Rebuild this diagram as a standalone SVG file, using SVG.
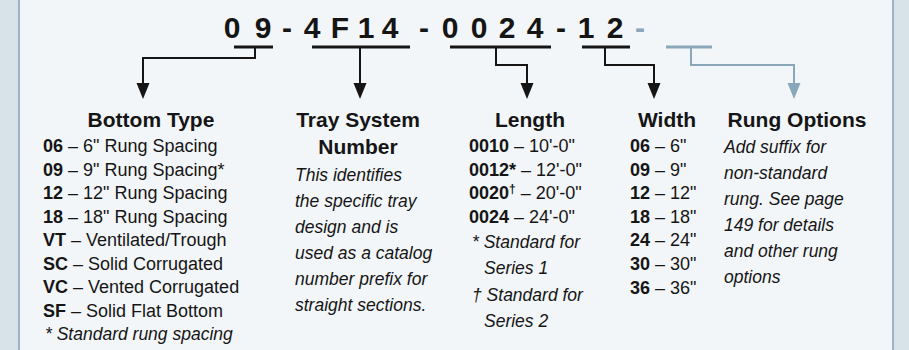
<svg xmlns="http://www.w3.org/2000/svg" width="909" height="350" viewBox="0 0 909 350">
<style>
text{font-family:"Liberation Sans",Arial,sans-serif;fill:#151515}
.code{font-size:30px;font-weight:bold;text-anchor:middle}
.h{font-size:21px;font-weight:bold;text-anchor:middle}
.t{font-size:18px}
.i{font-size:17.5px;font-style:italic}
.b{font-weight:bold}
.ul{stroke:#151515;stroke-width:3;fill:none}
.ulg{stroke:#8aa6b9;stroke-width:3;fill:none}
.ln{stroke:#151515;stroke-width:2;fill:none;marker-end:url(#ah)}
.lng{stroke:#8aa6b9;stroke-width:2;fill:none;marker-end:url(#ahg)}
</style>
<defs>
<marker id="ah" markerUnits="userSpaceOnUse" markerWidth="16" markerHeight="14" viewBox="0 0 16 14" refX="5" refY="7" orient="auto"><path d="M0,0.5 L16,7 L0,13.5 z" fill="#151515"/></marker>
<marker id="ahg" markerUnits="userSpaceOnUse" markerWidth="16" markerHeight="14" viewBox="0 0 16 14" refX="5" refY="7" orient="auto"><path d="M0,0.5 L16,7 L0,13.5 z" fill="#8aa6b9"/></marker>
</defs>
<rect x="0" y="0" width="909" height="350" fill="#d8e2e9"/>
<rect x="19" y="-5" width="874" height="365" fill="#f3f6f9" stroke="#9cb3c5" stroke-width="2"/>

<g id="code">
<text class="code" y="38"><tspan x="232">0</tspan><tspan x="263">9</tspan><tspan x="287">-</tspan><tspan x="312">4</tspan><tspan x="340">F</tspan><tspan x="366">1</tspan><tspan x="390">4</tspan><tspan x="424">-</tspan><tspan x="450">0</tspan><tspan x="479">0</tspan><tspan x="507">2</tspan><tspan x="535">4</tspan><tspan x="561">-</tspan><tspan x="586">1</tspan><tspan x="615">2</tspan></text>
<text class="code" y="38" x="640" style="fill:#8aa6b9">-</text>
</g>

<g id="connectors">
<path class="ul" d="M234 47 H273"/>
<path class="ln" d="M255 47 V58 H143 V88"/>
<path class="ul" d="M312 47 H410"/>
<path class="ln" d="M360 47 V88"/>
<path class="ul" d="M450 47 H551"/>
<path class="ln" d="M496 47 V65 H527 V88"/>
<path class="ul" d="M582 47 H630"/>
<path class="ln" d="M605 47 V65 H654 V88"/>
<path class="ulg" d="M666 47 H712"/>
<path class="lng" d="M691 47 V65 H794 V88"/>
</g>

<g id="bottom-type">
<text class="h" x="151" y="127">Bottom Type</text>
<text class="t" x="43" y="152"><tspan class="b">06</tspan> – 6" Rung Spacing</text>
<text class="t" x="43" y="175.5"><tspan class="b">09</tspan> – 9" Rung Spacing*</text>
<text class="t" x="43" y="199"><tspan class="b">12</tspan> – 12" Rung Spacing</text>
<text class="t" x="43" y="222.5"><tspan class="b">18</tspan> – 18" Rung Spacing</text>
<text class="t" x="43" y="246"><tspan class="b">VT</tspan> – Ventilated/Trough</text>
<text class="t" x="43" y="269.5"><tspan class="b">SC</tspan> – Solid Corrugated</text>
<text class="t" x="43" y="293"><tspan class="b">VC</tspan> – Vented Corrugated</text>
<text class="t" x="43" y="317"><tspan class="b">SF</tspan> – Solid Flat Bottom</text>
<text class="i" x="45" y="340">* Standard rung spacing</text>
</g>

<g id="tray-system-number">
<text class="h" x="358" y="127">Tray System</text>
<text class="h" x="358" y="154">Number</text>
<text class="i" x="295" y="181">This identifies</text>
<text class="i" x="295" y="207">the specific tray</text>
<text class="i" x="295" y="233">design and is</text>
<text class="i" x="295" y="259">used as a catalog</text>
<text class="i" x="295" y="285">number prefix for</text>
<text class="i" x="295" y="311">straight sections.</text>
</g>

<g id="length">
<text class="h" x="530" y="127">Length</text>
<text class="t" x="469" y="152"><tspan class="b">0010</tspan> – 10'-0"</text>
<text class="t" x="469" y="175.5"><tspan class="b">0012*</tspan> – 12'-0"</text>
<text class="t" x="469" y="199"><tspan class="b">0020</tspan><tspan class="b" font-size="12" dy="-6">†</tspan><tspan dy="6"> – 20'-0"</tspan></text>
<text class="t" x="469" y="222.5"><tspan class="b">0024</tspan> – 24'-0"</text>
<text class="i" x="472" y="248">* Standard for</text>
<text class="i" x="484" y="274">Series 1</text>
<text class="i" x="472" y="301">† Standard for</text>
<text class="i" x="484" y="327">Series 2</text>
</g>

<g id="width">
<text class="h" x="667" y="127">Width</text>
<text class="t" x="630" y="152"><tspan class="b">06</tspan> – 6"</text>
<text class="t" x="630" y="175.5"><tspan class="b">09</tspan> – 9"</text>
<text class="t" x="630" y="199"><tspan class="b">12</tspan> – 12"</text>
<text class="t" x="630" y="222.5"><tspan class="b">18</tspan> – 18"</text>
<text class="t" x="630" y="246"><tspan class="b">24</tspan> – 24"</text>
<text class="t" x="630" y="270"><tspan class="b">30</tspan> – 30"</text>
<text class="t" x="630" y="293.5"><tspan class="b">36</tspan> – 36"</text>
</g>

<g id="rung-options">
<text class="h" x="797" y="127">Rung Options</text>
<text class="i" x="724" y="153">Add suffix for</text>
<text class="i" x="724" y="179">non-standard</text>
<text class="i" x="724" y="205">rung. See page</text>
<text class="i" x="724" y="231">149 for details</text>
<text class="i" x="724" y="257">and other rung</text>
<text class="i" x="724" y="283">options</text>
</g>
</svg>
